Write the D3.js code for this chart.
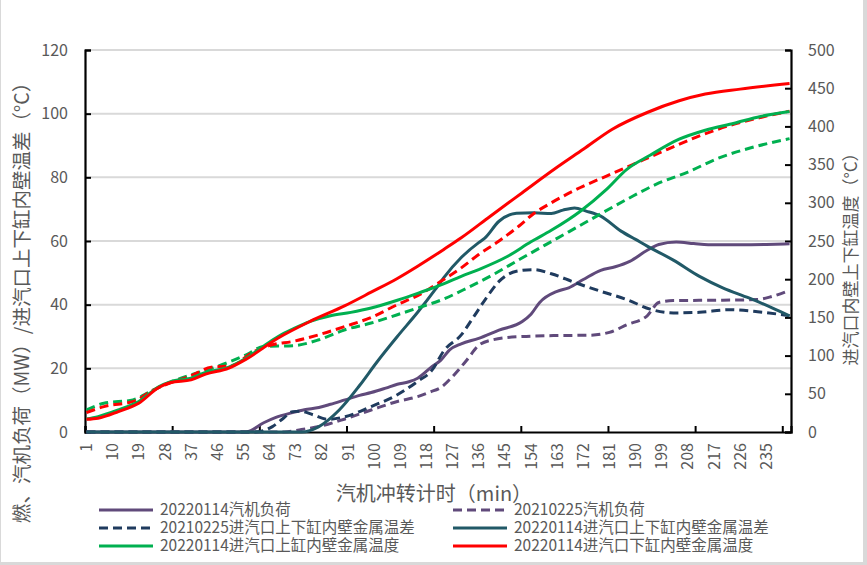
<!DOCTYPE html>
<html><head><meta charset="utf-8">
<script src="https://cdn.jsdelivr.net/npm/d3@7"></script>
<style>
body{margin:0;background:#d9d9d9}
svg{display:block}
text{font-family:"Noto Sans CJK SC","Noto Sans",sans-serif;fill:#595959}
</style>
</head><body>
<svg id="c" width="867" height="565"></svg>
<script>
// ---------- data ----------
const xTickLabels = [1,10,19,28,37,46,55,64,73,82,91,100,109,118,127,136,145,154,163,172,181,190,199,208,217,226,235];
const xTickMarks = [0,30,60,90,120,150,180,210,240];
const leftTicks = [0,20,40,60,80,100,120];
const rightTicks = [0,50,100,150,200,250,300,350,400,450,500];
const categoryCount = 243;

// [minute, value]
const load2022 = [[1,0],[56,0],[62,2.9],[66,4.5],[72,6.1],[76,7],[81,7.7],[85,8.7],[90,10.1],[95,11.5],[99,12.4],[104,13.8],[108,15],[112,15.8],[115,16.9],[120,20.6],[123,22.6],[126,25.8],[130,27.7],[136,29.4],[143,32],[151,34.7],[154,37],[157,40.7],[163,44.2],[167,45.3],[172,47.9],[178,50.8],[183,51.9],[188,53.6],[194,57.1],[198,58.9],[204,59.7],[210,59.2],[215,58.8],[226,58.8],[235,58.9],[243,59.1]];
const load2021 = [[1,0],[69,0],[75,0.8],[81,1.7],[90,4.1],[99,6.9],[108,9.6],[115,11.1],[119,12.5],[123,14],[127,17.4],[132,22.7],[136,27.2],[141,29],[151,30],[163,30.3],[174,30.4],[181,31.3],[187,33.7],[194,36.5],[198,40.7],[203,41.3],[220,41.4],[232,41.6],[237,42.6],[243,44.5]];
const diff2021 = [[1,0],[59,0],[65,1.7],[69,4.5],[72,6.4],[75,6.5],[79,5.4],[84,4],[90,4.8],[99,8],[108,11.7],[115,15.9],[120,19.5],[124,25.5],[130,30.5],[134,35.8],[139,42.6],[143,47.3],[149,50.5],[155,51],[161,49.7],[169,47],[178,44.2],[187,41.6],[195,38.6],[203,37.4],[212,37.6],[222,38.4],[232,37.8],[243,36.5]];
const diff2022 = [[1,0],[75,0],[81,1.7],[88,6.9],[95,14.6],[101,22],[108,30],[115,37.6],[121,44.7],[124,48.5],[130,54.8],[136,59.5],[138,60.8],[143,66.2],[149,68.7],[155,68.9],[161,68.6],[165,69.7],[169,70.4],[173,69.4],[178,67.8],[185,63.1],[190,60.5],[194,58.4],[203,54],[212,48.9],[220,45.3],[229,42.1],[237,39],[243,36.5]];
const upper2022 = [[1,17],[5,20.1],[12,28.9],[19,39.8],[26,59.5],[30,66],[37,70.4],[42,77.9],[50,84.9],[56,96.7],[61,109.8],[67,125],[72,134.7],[78,144.8],[85,152.2],[92,156.6],[99,162.3],[108,172.5],[115,181.5],[123,192.5],[130,203.8],[136,212.6],[146,230],[154,249],[161,264],[171,289],[180,317.6],[187,343.8],[195,362.2],[205,383.2],[214,395],[224,404.2],[233,413],[243,419.5]];
const lower2022 = [[1,16.6],[5,18],[12,26.7],[19,37.6],[26,58.6],[30,64.7],[37,68.2],[42,75.7],[50,83.6],[56,95.4],[67,123],[78,144.8],[90,165.4],[99,183],[108,201],[115,217],[124,239],[130,254.2],[140,282.5],[151,313.2],[162,343.8],[172,370],[182,396.3],[194,418.2],[205,433.5],[214,442.3],[226,448.8],[243,456.2]];
const upper2021 = [[1,28.9],[7,37.6],[17,42],[23,52.9],[29,63.9],[37,74.8],[46,85.7],[56,101],[62,112],[72,112.9],[81,120.7],[90,133.9],[99,142.6],[108,153.5],[115,162.3],[124,174.1],[132,188.5],[141,206],[150,225.7],[159,245],[167,262],[174,277],[187,304.5],[197,324.1],[208,340.3],[219,359.1],[230,372.3],[243,384]];
const lower2021 = [[1,25.4],[7,33.2],[18,41.1],[23,52.9],[29,63],[37,73.5],[44,84.9],[51,86.6],[58,104],[65,114.2],[72,118.5],[81,127.3],[90,138.2],[99,150],[108,166.7],[115,178.5],[123,197.3],[130,214.8],[136,232.3],[143,250],[150,270],[155,286],[161,300],[171,320],[180,335],[189,350],[201,370],[212,387.5],[224,403],[233,411.7],[243,420]];

const seriesNames = ["20220114汽机负荷","20210225汽机负荷","20210225进汽口上下缸内壁金属温差","20220114进汽口上下缸内壁金属温差","20220114进汽口上缸内壁金属温度","20220114进汽口下缸内壁金属温度","20210225进汽口上缸内壁金属温度","20210225进汽口下缸内壁金属温度"];
const xTitle = "汽机冲转计时（min）";
const yLeftTitle = "燃、汽机负荷（MW）/进汽口上下缸内壁温差（°C）";
const yRightTitle = "进汽口内壁上下缸温度（°C）";

// ---------- layout ----------
const svg = d3.select("#c");
svg.append("rect").attr("x",1).attr("y",0).attr("width",862).attr("height",562).attr("fill","#fff");

const L=85, R=791, T=50, B=432;
const x = d3.scaleLinear().domain([0.5, categoryCount+0.5]).range([L,R]);
const yL = d3.scaleLinear().domain([0,120]).range([B,T]);
const yR = d3.scaleLinear().domain([0,500]).range([B,T]);

// gridlines
svg.append("g").selectAll("line").data(leftTicks.slice(1)).join("line")
  .attr("x1",L).attr("x2",R).attr("y1",d=>yL(d)).attr("y2",d=>yL(d))
  .attr("stroke","#d9d9d9").attr("stroke-width",2);

// axes
const axL = d3.axisRight(yL).tickValues(leftTicks).tickSize(6).tickFormat("");
const gL = svg.append("g").attr("transform",`translate(${L},0)`).call(axL);
const axR = d3.axisLeft(yR).tickValues(rightTicks).tickSize(6).tickFormat("");
const gR = svg.append("g").attr("transform",`translate(${R},0)`).call(axR);
const axB = d3.axisTop(x).tickValues(xTickMarks.map(d=>d+0.5)).tickSize(6).tickFormat("");
const gB = svg.append("g").attr("transform",`translate(0,${B})`).call(axB);
[gL,gR,gB].forEach(g=>{
  g.select(".domain").attr("stroke","#000").attr("stroke-width",2.2);
  g.selectAll(".tick line").attr("stroke","#000").attr("stroke-width",2);
});

// tick labels
svg.append("g").selectAll("text").data(leftTicks).join("text")
  .attr("x",68).attr("y",d=>yL(d)).attr("dy","0.35em").attr("text-anchor","end")
  .attr("font-size",16).text(d=>d);
svg.append("g").selectAll("text").data(rightTicks).join("text")
  .attr("x",808).attr("y",d=>yR(d)).attr("dy","0.35em").attr("text-anchor","start")
  .attr("font-size",16).text(d=>d);
svg.append("g").selectAll("text").data(xTickLabels).join("text")
  .attr("transform",d=>`translate(${x(d)},443) rotate(-90)`)
  .attr("dy","0.35em").attr("text-anchor","end").attr("font-size",16).text(d=>d);

// titles
svg.append("text").attr("x",(L+R)/2-4).attr("y",494).attr("dy","0.35em")
  .attr("text-anchor","middle").attr("font-size",20).text(xTitle);
svg.append("text").attr("transform","translate(22,298) rotate(-90)").attr("dy","0.35em")
  .attr("text-anchor","middle").attr("font-size",19.5).text(yLeftTitle);
svg.append("text").attr("transform","translate(851,255) rotate(-90)").attr("dy","0.35em")
  .attr("text-anchor","middle").attr("font-size",17).text(yRightTitle);

// series
const series = [
  {name:seriesNames[0], data:load2022, axis:yL, color:"#604a7b", dash:null},
  {name:seriesNames[1], data:load2021, axis:yL, color:"#604a7b", dash:"9,5"},
  {name:seriesNames[2], data:diff2021, axis:yL, color:"#1f3b5e", dash:"9,5"},
  {name:seriesNames[3], data:diff2022, axis:yL, color:"#215967", dash:null},
  {name:seriesNames[6], data:upper2021, axis:yR, color:"#00b050", dash:"9,5"},
  {name:seriesNames[7], data:lower2021, axis:yR, color:"#ff0000", dash:"9,5"},
  {name:seriesNames[4], data:upper2022, axis:yR, color:"#00b050", dash:null},
  {name:seriesNames[5], data:lower2022, axis:yR, color:"#ff0000", dash:null}
];
series.forEach(s=>{
  const line = d3.line().x(d=>x(d[0])).y(d=>s.axis(d[1])).curve(d3.curveMonotoneX);
  svg.append("path").datum(s.data).attr("d",line).attr("fill","none")
    .attr("stroke",s.color).attr("stroke-width",3).attr("stroke-linejoin","round")
    .attr("stroke-dasharray",s.dash);
});

// legend (6 entries, 2 columns)
const legendItems = [
  {s:series[0], col:0,row:0},{s:series[1], col:1,row:0},
  {s:series[2], col:0,row:1},{s:series[3], col:1,row:1},
  {s:series[6], col:0,row:2},{s:series[7], col:1,row:2}
];
const colX=[99,453], rowY=[510,528,546];
const lg = svg.append("g");
legendItems.forEach(it=>{
  const x0=colX[it.col], y0=rowY[it.row];
  lg.append("line").attr("x1",x0).attr("x2",x0+54).attr("y1",y0).attr("y2",y0)
    .attr("stroke",it.s.color).attr("stroke-width",3).attr("stroke-dasharray",it.s.dash);
  lg.append("text").attr("x",x0+61).attr("y",y0).attr("dy","0.35em")
    .attr("font-size",15.5).text(it.s.name);
});
</script>
</body></html>
